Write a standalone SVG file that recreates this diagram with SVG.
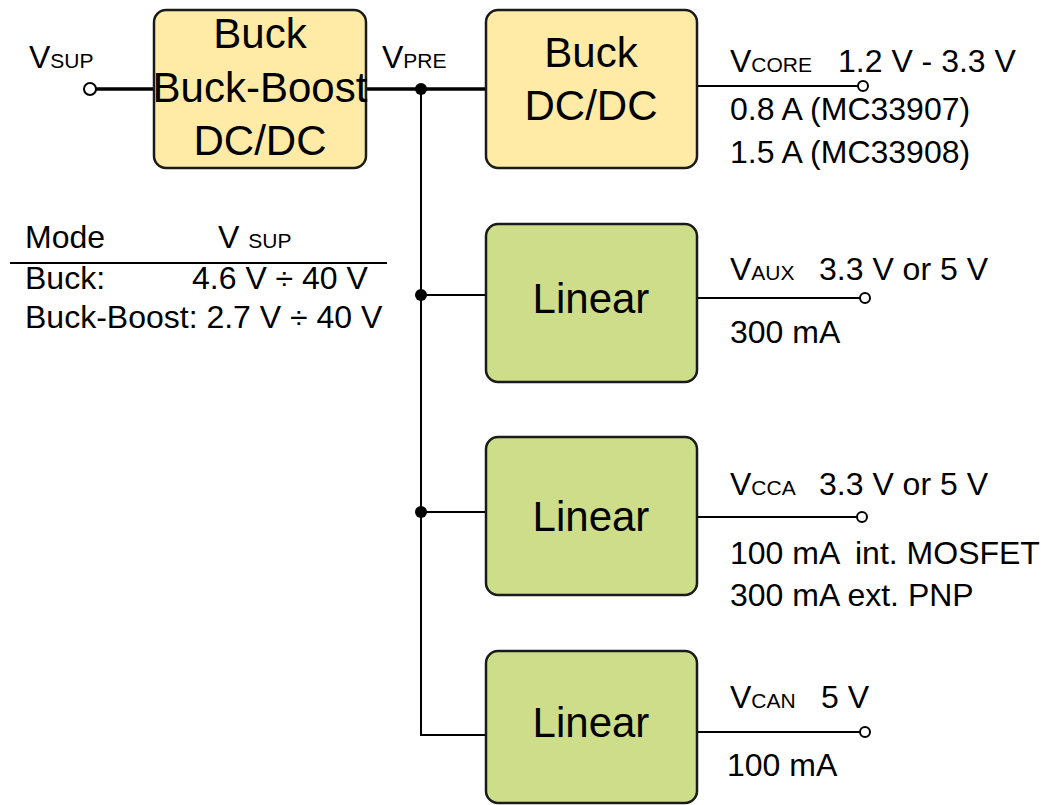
<svg xmlns="http://www.w3.org/2000/svg" width="1041" height="805" viewBox="0 0 1041 805">
<style>
text{font-family:"Liberation Sans",Arial,sans-serif;fill:#000}
.big{font-size:42px;text-anchor:middle}
.lbl{font-size:32px}
.sub{font-size:21px}
.yb{fill:#FFEBA5;stroke:#1a1a1a;stroke-width:2.5}
.gb{fill:#CEDD8A;stroke:#1a1a1a;stroke-width:2.5}
.w{stroke:#000;fill:none;stroke-width:2}
.t{stroke:#000;fill:none;stroke-width:3.5}
.pin{fill:#fff;stroke:#000;stroke-width:2}
</style>
<g id="connectors">
<line class="t" x1="95" y1="89" x2="154" y2="89"/>
<line class="t" x1="366" y1="89" x2="486" y2="89"/>
<polyline class="w" points="421,89 421,735 486,735"/>
<line class="w" x1="421" y1="295" x2="486" y2="295"/>
<line class="w" x1="421" y1="512" x2="486" y2="512"/>
<circle cx="421" cy="89" r="6" fill="#000"/>
<circle cx="421" cy="295" r="6" fill="#000"/>
<circle cx="421" cy="512" r="6" fill="#000"/>
<circle class="pin" cx="90" cy="89" r="6"/>
<line class="w" x1="697" y1="86" x2="858" y2="86"/>
<circle class="pin" cx="863" cy="86" r="5"/>
<line class="w" x1="697" y1="298" x2="860" y2="298"/>
<circle class="pin" cx="865" cy="298" r="5"/>
<line class="w" x1="697" y1="517" x2="857" y2="517"/>
<circle class="pin" cx="862" cy="517" r="5"/>
<line class="w" x1="697" y1="732" x2="860" y2="732"/>
<circle class="pin" cx="865" cy="732" r="5"/>
</g>
<g id="vsup-label"><text class="lbl" x="29" y="68">V<tspan class="sub">SUP</tspan></text></g>
<g id="vpre-label"><text class="lbl" x="382" y="68">V<tspan class="sub">PRE</tspan></text></g>
<g id="buckboost">
<rect class="yb" x="154" y="10" width="212" height="158" rx="12"/>
<text class="big" x="260" y="48">Buck</text>
<text class="big" x="260" y="102">Buck-Boost</text>
<text class="big" x="260" y="155">DC/DC</text>
</g>
<g id="buck">
<rect class="yb" x="486" y="10" width="211" height="158" rx="12"/>
<text class="big" x="591" y="67">Buck</text>
<text class="big" x="591" y="120">DC/DC</text>
</g>
<g id="linear1">
<rect class="gb" x="486" y="224" width="211" height="158" rx="12"/>
<text class="big" x="591" y="313">Linear</text>
</g>
<g id="linear2">
<rect class="gb" x="486" y="437" width="211" height="158" rx="12"/>
<text class="big" x="591" y="531">Linear</text>
</g>
<g id="linear3">
<rect class="gb" x="486" y="651" width="211" height="152" rx="12"/>
<text class="big" x="591" y="737">Linear</text>
</g>
<g id="vcore-label">
<text class="lbl" x="730" y="72">V<tspan class="sub">CORE</tspan><tspan x="838">1.2 V - 3.3 V</tspan></text>
<text class="lbl" x="730" y="120">0.8 A (MC33907)</text>
<text class="lbl" x="730" y="163">1.5 A (MC33908)</text>
</g>
<g id="vaux-label">
<text class="lbl" x="730" y="280">V<tspan class="sub">AUX</tspan><tspan x="819">3.3 V or 5 V</tspan></text>
<text class="lbl" x="730" y="343">300 mA</text>
</g>
<g id="vcca-label">
<text class="lbl" x="730" y="495">V<tspan class="sub">CCA</tspan><tspan x="819">3.3 V or 5 V</tspan></text>
<text class="lbl" x="730" y="564">100 mA<tspan x="855">int. MOSFET</tspan></text>
<text class="lbl" x="730" y="606">300 mA ext. PNP</text>
</g>
<g id="vcan-label">
<text class="lbl" x="730" y="708">V<tspan class="sub">CAN</tspan><tspan x="821">5 V</tspan></text>
<text class="lbl" x="727" y="776">100 mA</text>
</g>
<g id="mode-table">
<text class="lbl" x="25" y="248">Mode</text>
<text class="lbl" x="218" y="248">V <tspan class="sub">SUP</tspan></text>
<line x1="10" y1="263" x2="387" y2="263" stroke="#000" stroke-width="2"/>
<text class="lbl" x="25" y="289">Buck:</text>
<text class="lbl" x="192" y="289">4.6 V ÷ 40 V</text>
<text class="lbl" x="25" y="328">Buck-Boost: 2.7 V ÷ 40 V</text>
</g>
</svg>
